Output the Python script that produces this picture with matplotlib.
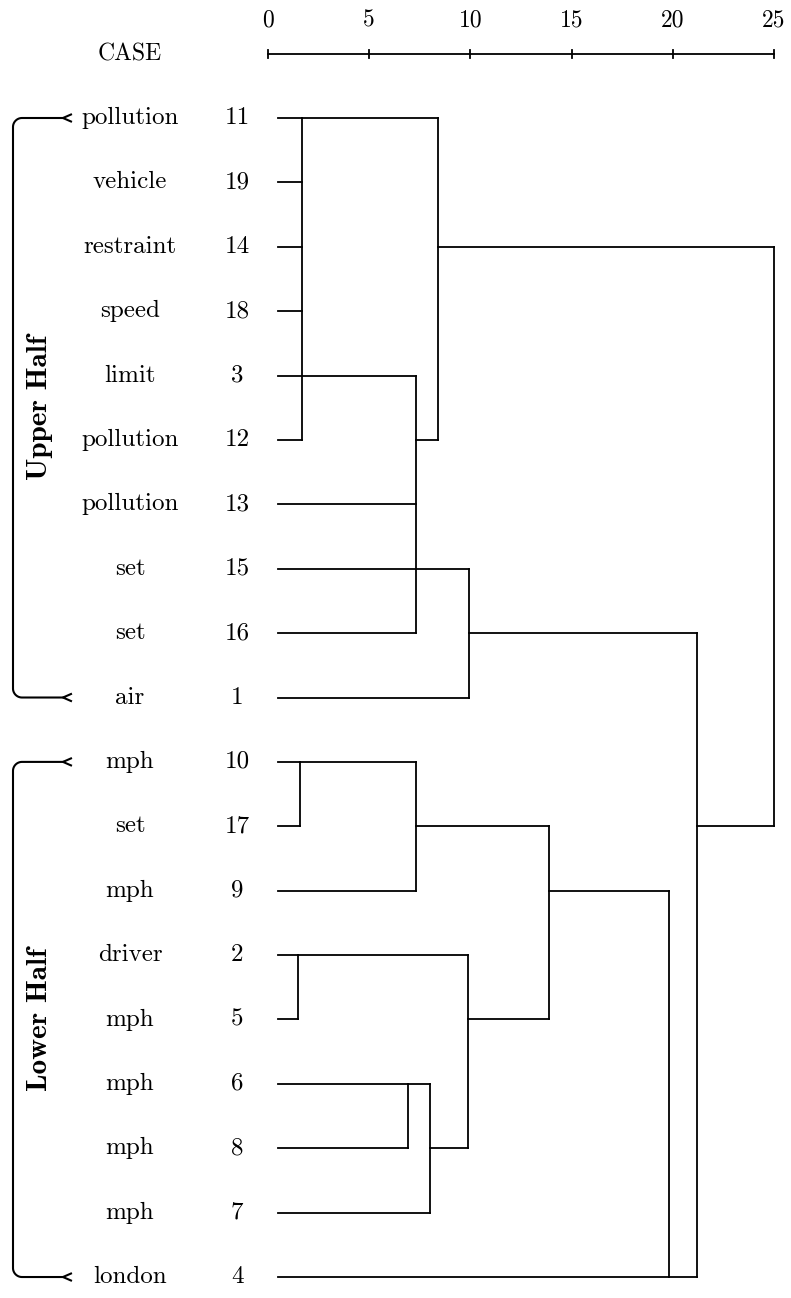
import matplotlib
matplotlib.use("Agg")
import matplotlib.pyplot as plt
import numpy as np

# === Data === #
leaf_names = ["pollution", "vehicle", "restraint", "speed", "limit", "pollution",
              "pollution", "set", "set", "air", "mph", "set", "mph", "driver",
              "mph", "mph", "mph", "mph", "london"]
case_ids = [11, 19, 14, 18, 3, 12, 13, 15, 16, 1, 10, 17, 9, 2, 5, 6, 8, 7, 4]

# merges: node ids 0..18 are leaves (row order), 19.. are merges in this order
merge_children = [[0, 1, 2, 3, 5], [4, 6, 8], [19, 20], [7, 9], [10, 11], [23, 12],
                  [13, 14], [15, 16], [26, 17], [25, 27], [24, 28], [29, 18],
                  [22, 30], [21, 31]]
merge_heights = [1.7, 7.3, 8.4, 9.95, 1.6, 7.3, 1.5, 6.9, 8.0, 9.9, 13.9, 19.8, 21.2, 25.0]
merge_out_rows = [0, 5, 2, 8, 10, 11, 13, 15, 16, 14, 12, 18, 11, None]

scale_ticks = [0, 5, 10, 15, 20, 25]
group_labels = ["Upper Half", "Lower Half"]
group_rows = [(0, 9), (10, 18)]

# === Layout (pixels of a 791x1298 canvas) === #
W, H = 791, 1298
X0_PX, SX = 268, 20.24      # px of distance 0, px per unit
Y0_PX, SY = 118, 64.39      # px of row 0, px per row
LEAF_START = 0.5


def px_x(px):
    return (px - X0_PX) / SX


def px_y(px):
    return (px - Y0_PX) / SY


serif = ["cmr10", "DejaVu Serif"]
serif_bold = ["cmb10", "DejaVu Serif"]
plt.rcParams["axes.unicode_minus"] = False

fig = plt.figure(figsize=(W / 100, H / 100), dpi=100)
ax = fig.add_axes([0, 0, 1, 1])
ax.set_xlim(px_x(0), px_x(W))
ax.set_ylim(px_y(H), px_y(0))
ax.axis("off")

lw = 1.3
col = "black"

# === Dendrogram === #
n_leaves = len(leaf_names)
node_row = {i: i for i in range(n_leaves)}
node_h = {i: LEAF_START for i in range(n_leaves)}
for k, (kids, h, out) in enumerate(zip(merge_children, merge_heights, merge_out_rows)):
    rows = [node_row[c] for c in kids]
    ax.plot([h, h], [min(rows), max(rows)], color=col, lw=lw, solid_capstyle="projecting")
    for c in kids:
        ax.plot([node_h[c], h], [node_row[c], node_row[c]], color=col, lw=lw,
                solid_capstyle="projecting")
    nid = n_leaves + k
    node_row[nid] = out
    node_h[nid] = h

# leaf labels
for r, (name, cid) in enumerate(zip(leaf_names, case_ids)):
    ax.text(px_x(130), r, name, ha="center", va="center", fontsize=18, family=serif)
    ax.text(px_x(237), r, str(cid), ha="center", va="center", fontsize=18, family=serif)

# === Scale on top === #
axis_row = px_y(54)
ax.plot([scale_ticks[0], scale_ticks[-1]], [axis_row, axis_row], color=col, lw=1.3)
for t in scale_ticks:
    ax.plot([t, t], [axis_row - 4 / SY, axis_row + 4 / SY], color=col, lw=1.3)
    ax.text(t, px_y(20), str(t), ha="center", va="center", fontsize=17, family=serif)
ax.text(px_x(130), axis_row, "CASE", ha="center", va="center", fontsize=17, family=serif)

# === Group brackets === #
xv, xe = px_x(13), px_x(63)
rx, ry = 9 / SX, 9 / SY
t = np.linspace(0, np.pi / 2, 20)
for label, (r0, r1) in zip(group_labels, group_rows):
    top_x = (xv + rx) - rx * np.sin(t)
    top_y = (r0 + ry) - ry * np.cos(t)
    bot_x = (xv + rx) - rx * np.cos(t)
    bot_y = (r1 - ry) + ry * np.sin(t)
    bx = np.concatenate([[xe], top_x, bot_x, [xe]])
    by = np.concatenate([[r0], top_y, bot_y, [r1]])
    ax.plot(bx, by, color=col, lw=1.5)
    for r in (r0, r1):
        ax.plot([xe + 8 / SX, xe, xe + 8 / SX], [r - 3.5 / SY, r, r + 3.5 / SY],
                color=col, lw=1.5)
    ax.text(px_x(40), (r0 + r1) / 2, label, rotation=90, ha="center", va="center",
            fontsize=21, fontweight="bold", family=serif_bold)

fig.savefig("out.png", dpi=100, facecolor="white")
